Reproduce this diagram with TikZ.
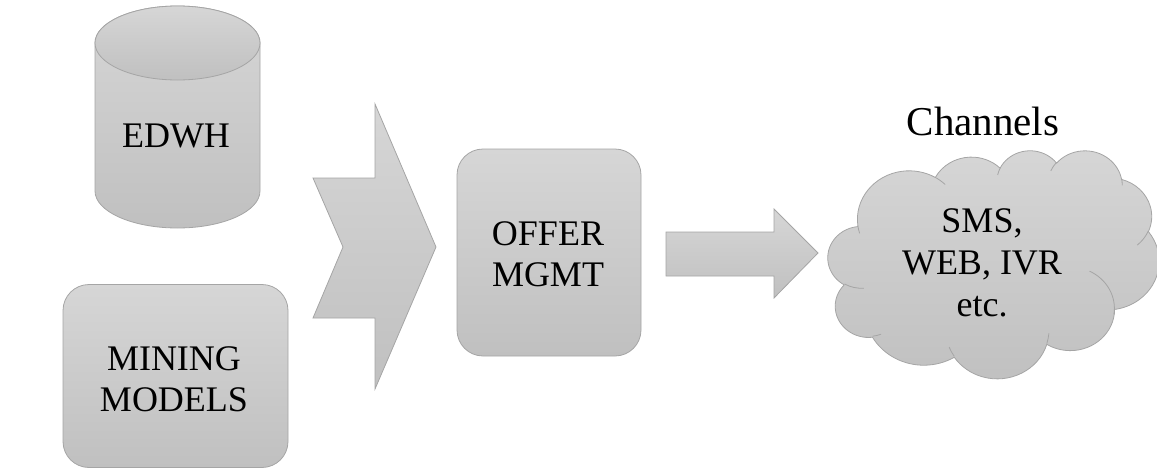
\documentclass[tikz,border=0pt]{standalone}
\usepackage{fontspec}
\setmainfont{Liberation Serif}
\definecolor{shtop}{RGB}{214,214,214}
\definecolor{shbot}{RGB}{192,192,192}
\definecolor{shline}{RGB}{165,165,165}
\tikzset{
  solid3d/.style={draw=shline, line width=0.8pt, top color=shtop, bottom color=shbot},
  crease/.style={draw=shline, line width=0.8pt},
  lbl/.style={font=\fontsize{36}{41}\selectfont, align=center, inner sep=0pt},
  roundbox/.style={solid3d, rounded corners=26pt, inner sep=0pt},
}
\begin{document}
\begin{tikzpicture}[x=1pt,y=-1pt]
\useasboundingbox (0,0) rectangle (1157,471);

% data warehouse cylinder
\path[solid3d] (95,43) -- (95,191)
  arc[start angle=180,end angle=0,x radius=82.5,y radius=37] -- (260,43)
  arc[start angle=0,end angle=-180,x radius=82.5,y radius=37] -- cycle;
\path[solid3d] (177.5,43) ellipse[x radius=82.5,y radius=37];
\node[lbl] (edwh) at (176,135.5) {EDWH};

% mining models box
\node[roundbox, minimum width=225pt, minimum height=183pt] (mining) at (175.5,376) {};
\node[lbl] (miningtxt) at (174,379.5) {MINING\\MODELS};

% merging chevron
\path[solid3d] (313,178) -- (375,178) -- (375,104) -- (436,247) -- (375,389)
  -- (375,318) -- (313,318) -- (343,247) -- cycle;

% offer management box
\node[roundbox, minimum width=184pt, minimum height=207pt] (offer) at (549,252.5) {};
\node[lbl] (offertxt) at (548,254) {OFFER\\MGMT};

% block arrow to the channels
\path[solid3d] (666,232) -- (774,232) -- (774,209) -- (818,253) -- (774,298)
  -- (774,276) -- (666,276) -- cycle;

% channels cloud, built from elliptic puffs in a 432 x 432 unit frame
\begin{scope}[shift={(828,150)}, x={(0.7662pt,0pt)}, y={(0pt,-0.5278pt)}]
  \path[solid3d] (39,143.7)
    arc[start angle=-187.74, end angle=-59.63,  x radius=67.53, y radius=91.90]
    arc[start angle=-152.03, end angle=-45.42,  x radius=53.33, y radius=72.67]
    arc[start angle=-153.49, end angle=-37.34,  x radius=43.65, y radius=59.45]
    arc[start angle=-139.69, end angle=-10.21,  x radius=48.57, y radius=65.95]
    arc[start angle=-74.77,  end angle=23.21,   x radius=53.33, y radius=72.73]
    arc[start angle=-37.54,  end angle=81.86,   x radius=67.75, y radius=92.20]
    arc[start angle=0.46,    end angle=121.98,  x radius=57.85, y radius=78.67]
    arc[start angle=16.84,   end angle=146.24,  x radius=67.52, y radius=92.15]
    arc[start angle=58.99,   end angle=150.18,  x radius=77.20, y radius=105.43]
    arc[start angle=-276.70, end angle=-136.91, x radius=43.60, y radius=59.18]
    arc[start angle=-239.64, end angle=-95.89,  x radius=43.45, y radius=59.45]
    -- cycle;
  % creases where the puffs overlap
  \draw[crease] (46.93,261.77) arc[start angle=85.55, end angle=120.36, x radius=43.45, y radius=59.45];
  \draw[crease] (69.28,348.99) arc[start angle=68.24, end angle=83.30, x radius=43.60, y radius=59.18];
  \draw[crease] (164.78,390.90) arc[start angle=146.24, end angle=158.47, x radius=67.52, y radius=92.15];
  \draw[crease] (288.27,347.51) arc[start angle=4.74, end angle=16.84, x radius=67.52, y radius=92.15];
  \draw[crease] (341.29,229.54) arc[start angle=-64.03, end angle=8.34, x radius=57.85, y radius=78.67];
  \draw[crease] (417.98,153.54) arc[start angle=23.21, end angle=49.63, x radius=53.33, y radius=72.73];
  \draw[crease] (383.24,54.26) arc[start angle=-10.21, end angle=0.82, x radius=48.57, y radius=65.95];
  \draw[crease] (290.78,39.52) arc[start angle=-156.28, end angle=-139.69, x radius=48.57, y radius=65.95];
  \draw[crease] (221.41,47.20) arc[start angle=-167.73, end angle=-153.49, x radius=43.65, y radius=59.45];
  \draw[crease] (140.00,51.92) arc[start angle=-59.63, end angle=-45.74, x radius=67.53, y radius=91.90];
  \draw[crease] (41.27,157.89) arc[start angle=163.19, end angle=172.26, x radius=67.53, y radius=91.90];
\end{scope}
\node[font=\fontsize{41}{45}\selectfont, anchor=base, inner sep=0pt] (chan) at (983,135) {Channels};
\node[lbl] (chtxt) at (982,263) {SMS,\\[1pt]WEB, IVR\\[1pt]etc.};
\end{tikzpicture}
\end{document}
